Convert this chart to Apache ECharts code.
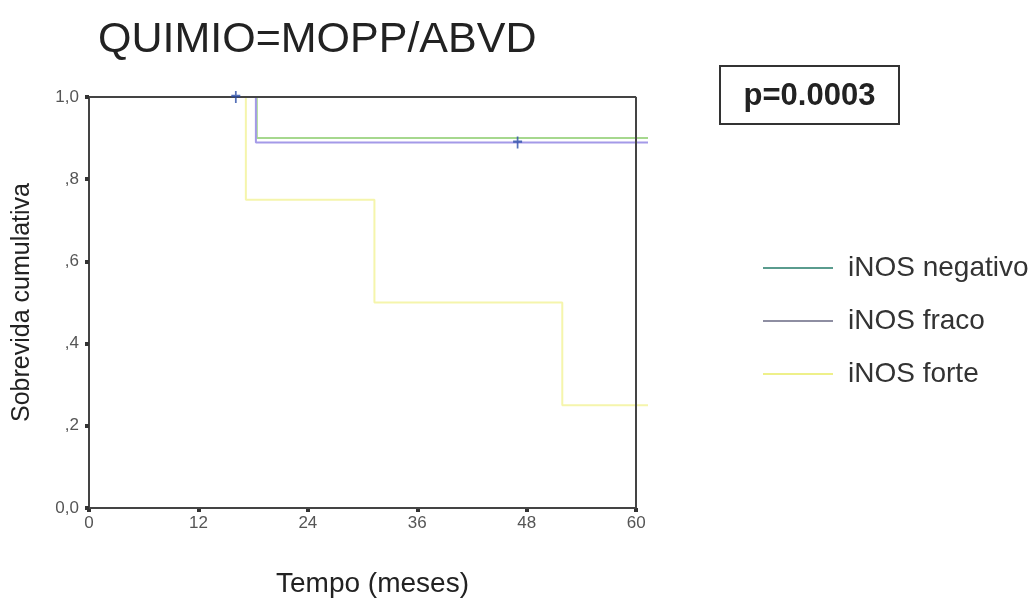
<!DOCTYPE html>
<html>
<head>
<meta charset="utf-8">
<script src="https://cdn.jsdelivr.net/npm/echarts@6/dist/echarts.min.js"></script>
<style>html,body{margin:0;padding:0;background:#fff;}#c{width:1035px;height:603px;}</style>
</head>
<body>
<div id="c"></div>
<script>
// ---- data ----
var titleText = 'QUIMIO=MOPP/ABVD';
var pText = 'p=0.0003';
var seriesNames = ['iNOS negativo', 'iNOS fraco', 'iNOS forte'];
var xTicks = [0, 12, 24, 36, 48, 60];
var yTicks = [0, 0.2, 0.4, 0.6, 0.8, 1.0];
var yTickLabels = ['0,0', ',2', ',4', ',6', ',8', '1,0'];
var xFrameMax = 60;     // plot frame right edge (months)
var xDataMax = 61.3;    // curves run slightly past the frame
// Kaplan-Meier step points [months, cumulative survival]
var negativo = [[0, 1.0], [18.4, 0.90], [61.3, 0.90]];
var fraco = [[0, 1.0], [18.3, 0.889], [61.3, 0.889]];
var forte = [[0, 1.0], [17.2, 0.75], [31.3, 0.50], [51.9, 0.25], [61.3, 0.25]];
// censored observations
var fracoCensored = [[16.1, 1.0], [47.0, 0.889]];

var lineColors = ['#a6d88e', '#a49ae8', '#f5f5ac'];
var legendColors = ['#5a9c8e', '#8e8ea2', '#eef08a'];

var chart = echarts.init(document.getElementById('c'));
var FONT = 'Liberation Sans, Arial, sans-serif';
function lineSeries(name, data, color) {
  return {
    name: name, type: 'line', step: 'end', data: data, showSymbol: false,
    lineStyle: {color: color, width: 2}, itemStyle: {color: color}, z: 3
  };
}
chart.setOption({
  animation: false,
  backgroundColor: '#fff',
  title: {
    text: titleText, left: 93, top: 14,
    textStyle: {fontFamily: FONT, fontSize: 43, fontWeight: 'normal', color: '#222'}
  },
  grid: {left: 89, right: 387, top: 97, bottom: 90, show: false},
  xAxis: {
    type: 'value', min: 0, max: xDataMax, interval: 12,
    name: 'Tempo (meses)', nameLocation: 'middle', nameGap: 62,
    nameTextStyle: {fontFamily: FONT, fontSize: 28, color: '#222', padding: [0, 0, 0, 8]},
    axisLine: {show: false},
    axisTick: {show: true, length: 4, customValues: xTicks, lineStyle: {color: '#333', width: 4}},
    axisLabel: {fontFamily: FONT, fontSize: 17, color: '#555', margin: 7, customValues: xTicks,
      formatter: function (v) { return xTicks.indexOf(v) >= 0 ? String(v) : ''; }},
    splitLine: {show: false}
  },
  yAxis: {
    type: 'value', min: 0, max: 1, interval: 0.2,
    name: 'Sobrevida cumulativa', nameLocation: 'middle', nameGap: 54,
    nameTextStyle: {fontFamily: FONT, fontSize: 25, color: '#222'},
    axisLine: {show: true, lineStyle: {color: '#444', width: 2}},
    axisTick: {show: true, length: 4, lineStyle: {color: '#333', width: 4}},
    axisLabel: {fontFamily: FONT, fontSize: 17, color: '#555', margin: 10,
      formatter: function (v) {
        for (var i = 0; i < yTicks.length; i++) { if (Math.abs(yTicks[i] - v) < 1e-6) return yTickLabels[i]; }
        return '';
      }},
    splitLine: {show: false}
  },
  legend: {
    orient: 'vertical', left: 758, top: 248, itemWidth: 70, itemHeight: 2, itemGap: 23,
    icon: 'rect',
    textStyle: {fontFamily: FONT, fontSize: 28, color: '#333', lineHeight: 30, padding: [0, 0, 0, 10]},
    data: seriesNames.map(function (n, i) { return {name: n, itemStyle: {color: legendColors[i]}}; })
  },
  series: [
    lineSeries(seriesNames[0], negativo, lineColors[0]),
    lineSeries(seriesNames[1], fraco, lineColors[1]),
    lineSeries(seriesNames[2], forte, lineColors[2]),
    {
      name: 'censored', type: 'scatter', data: fracoCensored, z: 5,
      symbol: 'path://M5,0 L5,12 M0,5 L10,5', symbolSize: [9, 12],
      itemStyle: {color: 'none', borderColor: '#2c4ea8', borderWidth: 2}
    },
    {
      name: 'frame', type: 'line', data: [], z: 4, silent: true,
      markLine: {
        silent: true, symbol: 'none', label: {show: false},
        lineStyle: {color: '#444', width: 2, type: 'solid'},
        data: [
          [{coord: [0, 0]}, {coord: [xFrameMax, 0]}],
          [{coord: [0, 1]}, {coord: [xFrameMax, 1]}],
          [{coord: [xFrameMax, 0]}, {coord: [xFrameMax, 1]}]
        ]
      }
    }
  ],
  graphic: [{
    type: 'group', left: 719, top: 65,
    children: [
      {type: 'rect', shape: {x: 0, y: 0, width: 179, height: 58},
       style: {fill: '#fff', stroke: '#333', lineWidth: 2}},
      {type: 'text', x: 89.5, y: 30,
       style: {text: pText, fontFamily: FONT, fontSize: 31, fontWeight: 'bold', fill: '#222',
               align: 'center', verticalAlign: 'middle'}}
    ]
  }]
});
</script>
</body>
</html>
